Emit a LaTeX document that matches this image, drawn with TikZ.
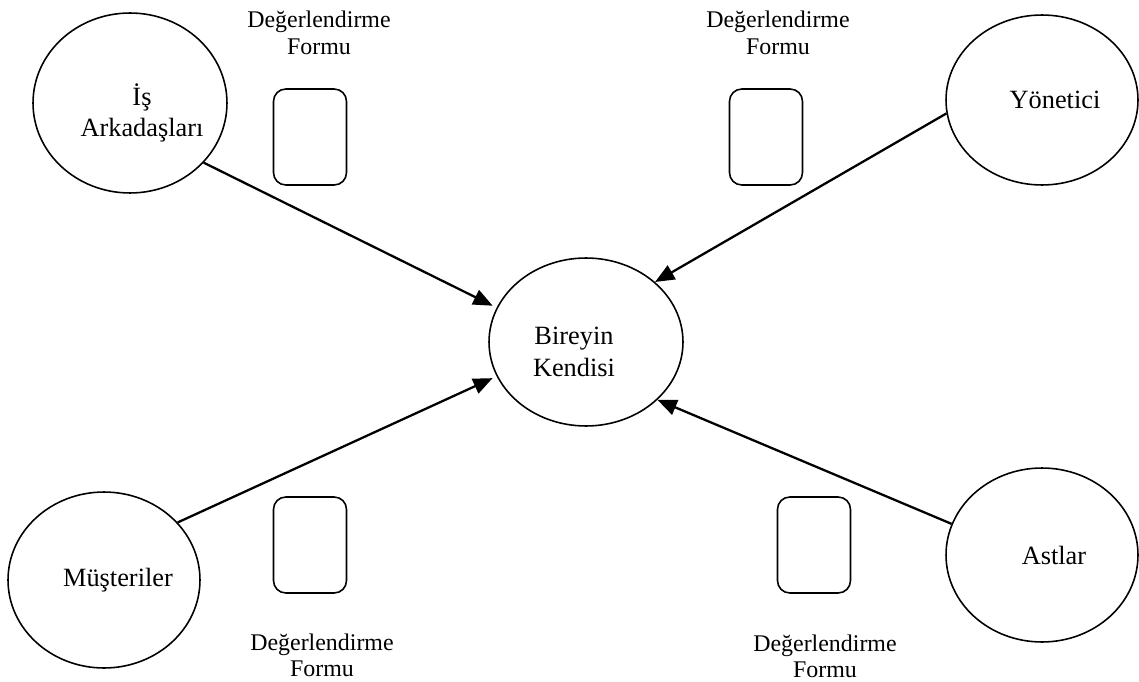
\documentclass[tikz,border=0pt]{standalone}
\usepackage{fontspec}
\setmainfont{Liberation Serif}
\usetikzlibrary{shapes.geometric, arrows.meta, positioning}

\begin{document}
\begin{tikzpicture}[
    x=0.02cm, y=-0.02cm,
    party/.style={ellipse, draw, line width=0.9pt, inner sep=0pt},
    partytext/.style={align=center, font=\fontsize{15}{18}\selectfont},
    form/.style={rectangle, draw, rounded corners=7pt, line width=0.9pt, minimum width=1.46cm, minimum height=1.92cm},
    formlabel/.style={align=center, font=\fontsize{13.6}{15}\selectfont},
    arrow/.style={-{Triangle[length=11pt,width=9pt]}, line width=1.3pt}
]
\useasboundingbox (0,0) rectangle (1139,682);

\node [party, minimum width=3.88cm, minimum height=3.6cm,
    label={[partytext, shift={(12,10)}]center:İş\\Arkadaşları}] (colleagues) at (130,103) {};
\node [party, minimum width=3.84cm, minimum height=3.4cm,
    label={[partytext, shift={(13,0)}]center:Yönetici}] (manager) at (1042,100) {};
\node [party, minimum width=3.88cm, minimum height=3.36cm,
    label={[partytext, shift={(-12,10)}]center:Bireyin\\Kendisi}] (self) at (586,342) {};
\node [party, minimum width=3.84cm, minimum height=3.52cm,
    label={[partytext, shift={(14,0)}]center:Müşteriler}] (customers) at (104,580) {};
\node [party, minimum width=3.84cm, minimum height=3.48cm,
    label={[partytext, shift={(12,0)}]center:Astlar}] (subordinates) at (1042,555) {};

\node [form] (formTL) at (310,137) {};
\node [form] (formTR) at (766,137) {};
\node [form] (formBL) at (310,545) {};
\node [form] (formBR) at (814,545) {};

\node [formlabel] (labelTL) at (319,33) {Değerlendirme\\Formu};
\node [formlabel] (labelTR) at (778,33) {Değerlendirme\\Formu};
\node [formlabel] (labelBL) at (322,655) {Değerlendirme\\Formu};
\node [formlabel] (labelBR) at (825,656) {Değerlendirme\\Formu};

\draw [arrow, shorten >=2.5pt] (colleagues.-39) -- (self.159);
\draw [arrow] (manager.188) -- (self.41);
\draw [arrow, shorten >=2.5pt] (customers.38) -- (self.201);
\draw [arrow] (subordinates.161) -- (self.-39);
\end{tikzpicture}
\end{document}
